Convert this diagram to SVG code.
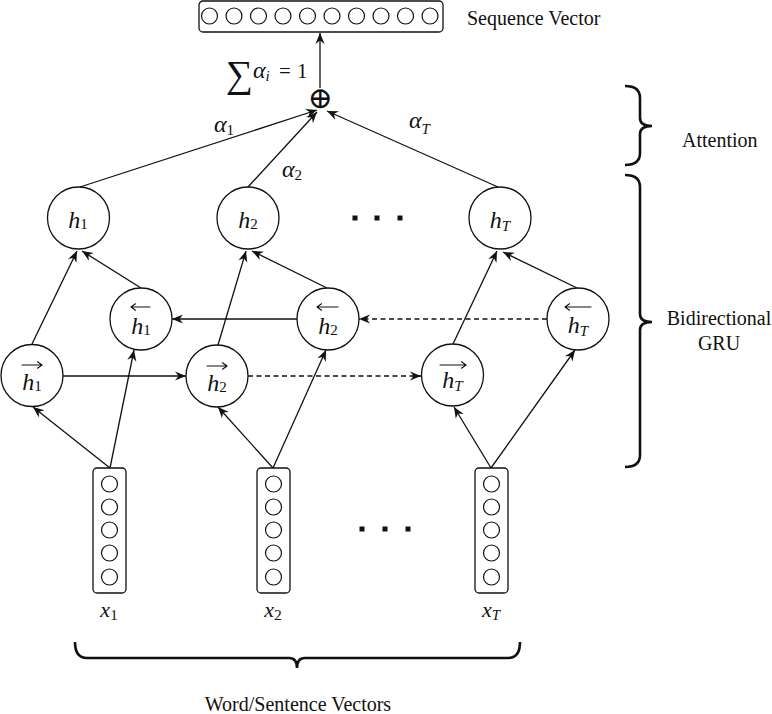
<svg xmlns="http://www.w3.org/2000/svg" width="772" height="714" viewBox="0 0 772 714">
<defs>
<style>
.lbl{font-size:20px}
.m{font-size:24px;font-style:italic}
.a{font-size:24px;font-style:italic}
.xv{font-size:22px;font-style:italic}
.s{font-size:15px}
.si{font-size:15px;font-style:italic}
.node{fill:#fff;stroke:#111;stroke-width:1.3}
.cell{fill:#fff;stroke:#111;stroke-width:1.2}
.box{fill:#fff;stroke:#111;stroke-width:1.3}
.e{stroke:#111;stroke-width:1.3;fill:none;marker-end:url(#ah)}
.d{stroke-dasharray:5 3.5}
.acc{stroke:#111;stroke-width:1.1;fill:none;stroke-linecap:round}
.brace{stroke:#111;stroke-width:2.6;fill:none}
.dot{fill:#111}
</style>
<marker id="ah" markerUnits="userSpaceOnUse" markerWidth="13" markerHeight="11" viewBox="-12 -5.5 13 11" refX="0" refY="0" orient="auto">
<path d="M0,0 L-11,-4.6 L-7.5,0 L-11,4.6 Z" fill="#111"/>
</marker>
</defs>
<g font-family="Liberation Serif, Times New Roman, serif" fill="#111">

<g id="connectors">
<line class="e" x1="320" y1="88" x2="320" y2="33"/>
<line class="e" x1="80" y1="187" x2="317" y2="110"/>
<line class="e" x1="248" y1="187" x2="317" y2="112"/>
<line class="e" x1="498" y1="187" x2="327" y2="111"/>
<line class="e" x1="32" y1="344" x2="77" y2="251"/>
<line class="e" x1="141" y1="288" x2="82" y2="251"/>
<line class="e" x1="218" y1="345" x2="246" y2="251"/>
<line class="e" x1="327" y1="288" x2="252" y2="251"/>
<line class="e" x1="453" y1="344" x2="497" y2="251"/>
<line class="e" x1="577" y1="288" x2="503" y2="252"/>
<line class="e" x1="63" y1="376" x2="186" y2="376"/>
<line class="e" x1="297" y1="319" x2="172" y2="319"/>
<line class="e d" x1="248" y1="376" x2="421" y2="376"/>
<line class="e d" x1="547" y1="319" x2="359" y2="319"/>
<line class="e" x1="110" y1="468" x2="33" y2="407"/>
<line class="e" x1="110" y1="468" x2="134" y2="350"/>
<line class="e" x1="273" y1="468" x2="218" y2="407"/>
<line class="e" x1="273" y1="468" x2="326" y2="350"/>
<line class="e" x1="491" y1="468" x2="454" y2="407"/>
<line class="e" x1="491" y1="468" x2="575" y2="350"/>
</g>

<g id="sequence-vector">
<rect class="box" x="199" y="1" width="244" height="31" rx="4"/>
<circle class="cell" cx="209.5" cy="16" r="8"/>
<circle class="cell" cx="234" cy="16" r="8"/>
<circle class="cell" cx="258.5" cy="16" r="8"/>
<circle class="cell" cx="283" cy="16" r="8"/>
<circle class="cell" cx="307.5" cy="16" r="8"/>
<circle class="cell" cx="332" cy="16" r="8"/>
<circle class="cell" cx="356.5" cy="16" r="8"/>
<circle class="cell" cx="381" cy="16" r="8"/>
<circle class="cell" cx="405.5" cy="16" r="8"/>
<circle class="cell" cx="430" cy="16" r="8"/>
<text class="lbl" x="467" y="25">Sequence Vector</text>
</g>

<g id="sum">
<text x="320" y="108" text-anchor="middle" font-family="DejaVu Serif, serif" font-size="30">⊕</text>
<text x="226" y="87"><tspan font-size="38">∑</tspan><tspan x="253" y="78" class="a">α</tspan><tspan class="si" y="81">i</tspan><tspan x="279" y="78" font-size="21">=</tspan><tspan x="297" y="78" font-size="21">1</tspan></text>
</g>

<g id="alpha-labels">
<text x="214" y="132"><tspan class="a">α</tspan><tspan class="s" y="135">1</tspan></text>
<text x="282" y="177"><tspan class="a">α</tspan><tspan class="s" y="180">2</tspan></text>
<text x="409" y="128"><tspan class="a">α</tspan><tspan class="si" y="134">T</tspan></text>
</g>

<g id="h1">
<circle class="node" cx="78.5" cy="218" r="31"/>
<text x="78" y="228" text-anchor="middle"><tspan class="m">h</tspan><tspan class="s" dy="1">1</tspan></text>
</g>
<g id="h2">
<circle class="node" cx="248" cy="218" r="31"/>
<text x="248" y="228" text-anchor="middle"><tspan class="m">h</tspan><tspan class="s" dy="1">2</tspan></text>
</g>
<g id="hT">
<circle class="node" cx="500" cy="218" r="31"/>
<text x="500" y="228" text-anchor="middle"><tspan class="m">h</tspan><tspan class="si" dy="3">T</tspan></text>
</g>

<g id="hb1">
<circle class="node" cx="141" cy="319" r="31"/>
<text x="141" y="334" text-anchor="middle"><tspan class="m">h</tspan><tspan class="s" dy="1">1</tspan></text>
<path class="acc" d="M131,307 H150 M131,307 l4.5,-3.2 M131,307 l4.5,3.2"/>
</g>
<g id="hb2">
<circle class="node" cx="328" cy="319" r="31"/>
<text x="328" y="334" text-anchor="middle"><tspan class="m">h</tspan><tspan class="s" dy="1">2</tspan></text>
<path class="acc" d="M317,307 H338 M317,307 l4.5,-3.2 M317,307 l4.5,3.2"/>
</g>
<g id="hbT">
<circle class="node" cx="578" cy="319" r="31"/>
<text x="578" y="333" text-anchor="middle"><tspan class="m">h</tspan><tspan class="si" dy="3">T</tspan></text>
<path class="acc" d="M565,307 H591 M565,307 l4.5,-3.2 M565,307 l4.5,3.2"/>
</g>

<g id="hf1">
<circle class="node" cx="32" cy="375.5" r="31"/>
<text x="32" y="390" text-anchor="middle"><tspan class="m">h</tspan><tspan class="s" dy="1">1</tspan></text>
<path class="acc" d="M22,365 H42 M42,365 l-4.5,-3.2 M42,365 l-4.5,3.2"/>
</g>
<g id="hf2">
<circle class="node" cx="217" cy="376" r="31"/>
<text x="217" y="391" text-anchor="middle"><tspan class="m">h</tspan><tspan class="s" dy="1">2</tspan></text>
<path class="acc" d="M207,366 H227 M227,366 l-4.5,-3.2 M227,366 l-4.5,3.2"/>
</g>
<g id="hfT">
<circle class="node" cx="452.5" cy="375" r="31"/>
<text x="452.5" y="388" text-anchor="middle"><tspan class="m">h</tspan><tspan class="si" dy="3">T</tspan></text>
<path class="acc" d="M440,365 H466 M466,365 l-4.5,-3.2 M466,365 l-4.5,3.2"/>
</g>

<g id="dots-top">
<rect class="dot" x="352.5" y="215.5" width="5" height="5"/>
<rect class="dot" x="374.5" y="215.5" width="5" height="5"/>
<rect class="dot" x="397.5" y="215.5" width="5" height="5"/>
</g>

<g id="x1">
<rect class="box" x="93" y="468" width="33" height="125" rx="4"/>
<circle class="cell" cx="109.5" cy="484" r="8"/>
<circle class="cell" cx="109.5" cy="507" r="8"/>
<circle class="cell" cx="109.5" cy="530" r="8"/>
<circle class="cell" cx="109.5" cy="553" r="8"/>
<circle class="cell" cx="109.5" cy="577" r="8"/>
<text x="109" y="617" text-anchor="middle"><tspan class="xv">x</tspan><tspan class="s" dy="3">1</tspan></text>
</g>
<g id="x2">
<rect class="box" x="257" y="468" width="33" height="125" rx="4"/>
<circle class="cell" cx="273.5" cy="484" r="8"/>
<circle class="cell" cx="273.5" cy="507" r="8"/>
<circle class="cell" cx="273.5" cy="530" r="8"/>
<circle class="cell" cx="273.5" cy="553" r="8"/>
<circle class="cell" cx="273.5" cy="577" r="8"/>
<text x="273" y="617" text-anchor="middle"><tspan class="xv">x</tspan><tspan class="s" dy="3">2</tspan></text>
</g>
<g id="xT">
<rect class="box" x="475" y="468" width="33" height="125" rx="4"/>
<circle class="cell" cx="491.5" cy="484" r="8"/>
<circle class="cell" cx="491.5" cy="507" r="8"/>
<circle class="cell" cx="491.5" cy="530" r="8"/>
<circle class="cell" cx="491.5" cy="553" r="8"/>
<circle class="cell" cx="491.5" cy="577" r="8"/>
<text x="491" y="617" text-anchor="middle"><tspan class="xv">x</tspan><tspan class="si" dy="3">T</tspan></text>
</g>

<g id="dots-bottom">
<rect class="dot" x="359.5" y="526.5" width="5" height="5"/>
<rect class="dot" x="382.5" y="526.5" width="5" height="5"/>
<rect class="dot" x="405.5" y="526.5" width="5" height="5"/>
</g>

<g id="attention-brace">
<path class="brace" d="M625,86 Q640,86 640,98 L640,118 Q640,126 652,126 Q640,126 640,134 L640,153 Q640,165 625,165"/>
<text class="lbl" x="682" y="147">Attention</text>
</g>
<g id="gru-brace">
<path class="brace" d="M625,175 Q640,175 640,187 L640,314 Q640,322 652,322 Q640,322 640,330 L640,455 Q640,467 625,467"/>
<text class="lbl" x="719" y="325" text-anchor="middle">Bidirectional</text>
<text class="lbl" x="719" y="350" text-anchor="middle">GRU</text>
</g>
<g id="input-brace">
<path class="brace" d="M75,642 Q75,658 87,658 L289,658 Q297,658 297,668 Q297,658 305,658 L508,658 Q520,658 520,642"/>
<text class="lbl" x="298" y="711" text-anchor="middle">Word/Sentence Vectors</text>
</g>
</g>
</svg>
